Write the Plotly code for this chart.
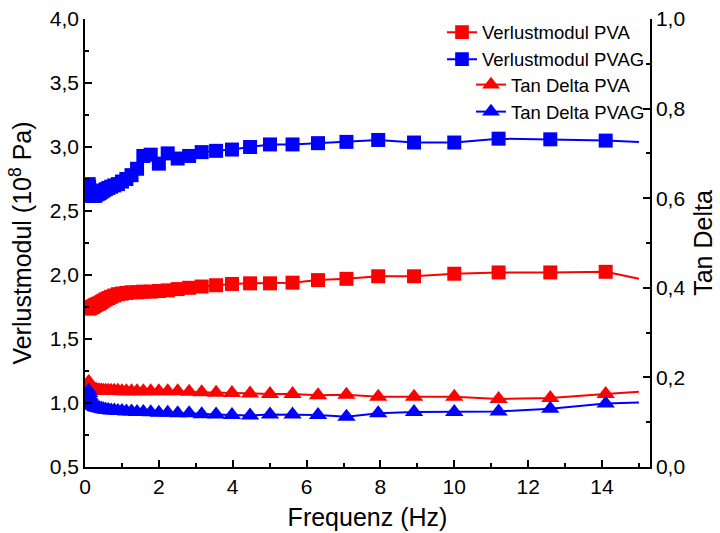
import plotly.graph_objects as go

# Frequency sweep (Hz)
freq = [0.1, 0.112, 0.126, 0.141, 0.158, 0.178, 0.2, 0.224, 0.251, 0.282,
        0.316, 0.355, 0.398, 0.447, 0.501, 0.562, 0.631, 0.708, 0.794, 0.891,
        1.0, 1.12, 1.26, 1.41, 1.58, 1.78, 2.0, 2.24, 2.51, 2.82,
        3.16, 3.55, 3.98, 4.47, 5.01, 5.62, 6.31, 7.08, 7.94, 8.91,
        10.0, 11.2, 12.6, 14.1, 15.0]

# Loss modulus (10^8 Pa)
vm_pva = [1.74, 1.74, 1.74, 1.745, 1.745, 1.75, 1.75, 1.755, 1.76, 1.765,
          1.77, 1.775, 1.78, 1.79, 1.80, 1.81, 1.82, 1.83, 1.84, 1.85,
          1.855, 1.86, 1.865, 1.865, 1.87, 1.87, 1.875, 1.88, 1.89, 1.90,
          1.91, 1.92, 1.93, 1.935, 1.935, 1.94, 1.96, 1.97, 1.99, 1.99,
          2.01, 2.02, 2.02, 2.025, 1.97]
vm_pvag = [2.71, 2.69, 2.66, 2.64, 2.63, 2.62, 2.62, 2.62, 2.62, 2.62,
           2.63, 2.635, 2.64, 2.65, 2.66, 2.67, 2.68, 2.69, 2.70, 2.71,
           2.73, 2.75, 2.78, 2.83, 2.93, 2.94, 2.87, 2.95, 2.91, 2.93,
           2.96, 2.97, 2.98, 3.00, 3.02, 3.02, 3.03, 3.04, 3.055, 3.035,
           3.035, 3.065, 3.06, 3.05, 3.04]

# Loss factor
td_pva = [0.19, 0.188, 0.185, 0.182, 0.179, 0.177, 0.175, 0.174, 0.173, 0.172,
          0.172, 0.171, 0.171, 0.171, 0.170, 0.170, 0.170, 0.170, 0.170, 0.170,
          0.169, 0.169, 0.169, 0.169, 0.169, 0.169, 0.169, 0.169, 0.169, 0.168,
          0.167, 0.166, 0.165, 0.164, 0.163, 0.163, 0.160, 0.161, 0.157, 0.157,
          0.157, 0.152, 0.154, 0.163, 0.168]
td_pvag = [0.17, 0.165, 0.158, 0.152, 0.147, 0.143, 0.140, 0.138, 0.136, 0.134,
           0.133, 0.132, 0.131, 0.130, 0.129, 0.128, 0.127, 0.126, 0.126, 0.125,
           0.125, 0.124, 0.124, 0.123, 0.123, 0.122, 0.121, 0.121, 0.120, 0.120,
           0.118, 0.117, 0.116, 0.115, 0.117, 0.117, 0.116, 0.112, 0.120, 0.123,
           0.123, 0.124, 0.130, 0.142, 0.144]

RED = "#FF0000"
BLUE = "#0000FF"
FONT = "Liberation Sans, Arial, sans-serif"

n = len(freq)
# the final sweep point is joined by the line but carries no symbol
sq_sizes = [14] * (n - 1) + [0]
tri_sizes = [16] * (n - 1) + [0]


def trace(y, name, color, symbol, sizes, axis, legend):
    return go.Scatter(
        x=freq, y=y, name=name, mode="lines+markers", yaxis=axis,
        legend=legend,
        line=dict(color=color, width=2),
        marker=dict(symbol=symbol, size=sizes, color=color, opacity=1,
                    line=dict(width=0)),
    )


fig = go.Figure()
fig.add_trace(trace(vm_pva, "Verlustmodul PVA", RED, "square", sq_sizes, "y", "legend"))
fig.add_trace(trace(vm_pvag, "Verlustmodul PVAG", BLUE, "square", sq_sizes, "y", "legend"))
fig.add_trace(trace(td_pva, "Tan Delta PVA", RED, "triangle-up", tri_sizes, "y2", "legend2"))
fig.add_trace(trace(td_pvag, "Tan Delta PVAG", BLUE, "triangle-up", tri_sizes, "y2", "legend2"))

axis_common = dict(
    ticks="inside", ticklen=7, tickwidth=1.5, tickcolor="black",
    showline=True, linecolor="black", linewidth=1.5,
    showgrid=False, zeroline=False, automargin=False,
    tickfont=dict(size=21, color="black"),
)

legend_common = dict(
    x=1.0, xanchor="right", yanchor="top",
    font=dict(size=18.5, color="black"),
    bgcolor="rgba(0,0,0,0)", borderwidth=0,
    itemsizing="trace",
)

fig.update_layout(
    width=720, height=533,
    margin=dict(l=85, r=70, t=19, b=66, autoexpand=False),
    separators=", ",
    plot_bgcolor="white", paper_bgcolor="white",
    font=dict(family=FONT, color="black"),
    xaxis=dict(
        range=[0, 15.3], tick0=0, dtick=2,
        title=dict(text="Frequenz (Hz)", font=dict(size=25), standoff=12),
        minor=dict(ticks="inside", ticklen=4, dtick=1, tickcolor="black", tickwidth=1.5),
        **axis_common,
    ),
    yaxis=dict(
        range=[0.5, 4.0], tick0=0.5, dtick=0.5, tickformat=".1f",
        title=dict(text="Verlustmodul (10<sup>8</sup> Pa)", font=dict(size=25), standoff=11),
        minor=dict(ticks="inside", ticklen=4, dtick=0.25, tickcolor="black", tickwidth=1.5),
        **axis_common,
    ),
    yaxis2=dict(
        range=[0, 1.0], tick0=0, dtick=0.2, tickformat=".1f",
        overlaying="y", side="right",
        title=dict(text="Tan Delta", font=dict(size=25), standoff=10),
        minor=dict(ticks="inside", ticklen=4, dtick=0.1, tickcolor="black", tickwidth=1.5),
        **axis_common,
    ),
    legend=dict(y=1.012, **legend_common),
    legend2=dict(y=0.895, **legend_common),
    showlegend=True,
)

fig.write_html("out.html")
